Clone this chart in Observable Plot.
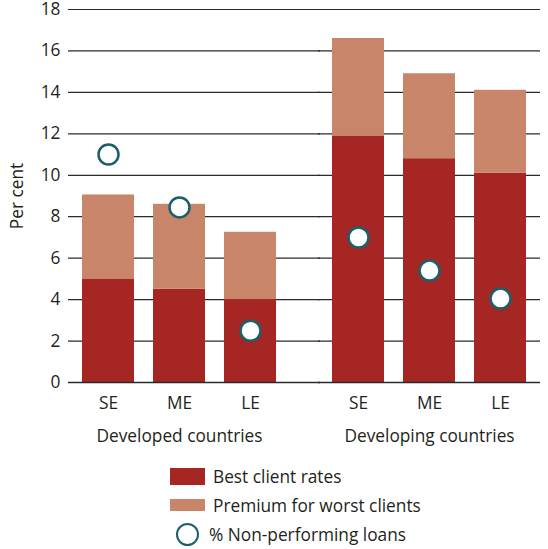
<!DOCTYPE html>
<html>
<head>
<meta charset="utf-8">
<script src="https://cdn.jsdelivr.net/npm/d3@7"></script>
<script src="https://cdn.jsdelivr.net/npm/@observablehq/plot@0.6"></script>
<style>
  body { margin: 0; background: #fff; font-family: "Open Sans", sans-serif; color: #231f20; }
  #wrap { position: relative; width: 548px; height: 549px; }
  #legend { position: absolute; left: 0; top: 450px; width: 548px; height: 99px; font-size: 17.3px; }
  .row { position: absolute; left: 170px; display: flex; align-items: center; }
  .sw { width: 35px; margin-right: 8px; }
  .circ { width: 19px; height: 19px; border-radius: 50%; border: 2.5px solid #1c5f6c; margin: 0 10px 0 6px; box-sizing: content-box; }
</style>
</head>
<body>
<div id="wrap">
  <div id="chart"></div>
  <div id="legend"></div>
</div>
<script>
const groups = ["Developed countries", "Developing countries"];
const sizes = ["SE", "ME", "LE"];
const seriesNames = ["Best client rates", "Premium for worst clients"];
const nplName = "% Non-performing loans";
const bestRates = [5.0, 4.5, 4.0, 11.9, 10.8, 10.1];
const premiumRates = [4.05, 4.1, 3.25, 4.7, 4.1, 4.0];
const nplValues = [11.0, 8.45, 2.5, 7.0, 5.4, 4.05];
const yTicks = [0, 2, 4, 6, 8, 10, 12, 14, 16, 18];
const colors = ["#a52622", "#c9856a"];
const nplStroke = "#1c5f6c";

const barRows = [];
const dotRows = [];
bestRates.forEach((v, i) => {
  barRows.push({group: groups[Math.floor(i / 3)], size: sizes[i % 3], series: seriesNames[0], value: v});
});
premiumRates.forEach((v, i) => {
  barRows.push({group: groups[Math.floor(i / 3)], size: sizes[i % 3], series: seriesNames[1], value: v});
});
nplValues.forEach((v, i) => {
  dotRows.push({group: groups[Math.floor(i / 3)], size: sizes[i % 3], npl: v});
});

const gridStyle = {stroke: "#2a2a2a", strokeWidth: 1.2};

const chart = Plot.plot({
  width: 548,
  height: 450,
  marginLeft: 68,
  marginRight: 8,
  marginTop: 9,
  marginBottom: 68,
  style: {fontFamily: "Open Sans", fontSize: "17.3px", color: "#231f20", background: "#fff"},
  fx: {domain: groups, paddingInner: 0.112, paddingOuter: 0, label: null},
  x: {domain: sizes, paddingInner: 0.263, paddingOuter: 0.19, label: null},
  y: {domain: [0, 18], label: "Per cent"},
  color: {domain: seriesNames, range: colors},
  marks: [
    // grid lines: the left panel's lines reach across the gap between panels
    Plot.ruleY(yTicks, {fx: () => groups[0], insetRight: -30, ...gridStyle}),
    Plot.ruleY(yTicks, {fx: () => groups[1], ...gridStyle}),
    Plot.barY(barRows, {fx: "group", x: "size", y: "value", fill: "series", order: seriesNames}),
    Plot.ruleY([0], {fx: () => groups[0], insetRight: -30, stroke: "#2a2a2a", strokeWidth: 1.6}),
    Plot.ruleY([0], {fx: () => groups[1], stroke: "#2a2a2a", strokeWidth: 1.6}),
    Plot.dot(dotRows, {fx: "group", x: "size", y: "npl", r: 10, fill: "#fff", stroke: nplStroke, strokeWidth: 2.5}),
    Plot.axisY({ticks: yTicks, tickSize: 0, tickPadding: 8, label: "Per cent", labelAnchor: "center", labelArrow: "none", labelOffset: 58}),
    Plot.axisX({tickSize: 0, tickPadding: 14, label: null}),
    Plot.axisFx({anchor: "bottom", tickSize: 0, tickPadding: 47, label: null})
  ]
});
document.getElementById("chart").appendChild(chart);

// legend
const legend = document.getElementById("legend");
const rowsSpec = [
  {type: "swatch", color: colors[0], label: seriesNames[0], top: 18, h: 17},
  {type: "swatch", color: colors[1], label: seriesNames[1], top: 49, h: 12},
  {type: "circle", label: nplName, top: 73}
];
rowsSpec.forEach(r => {
  const row = document.createElement("div");
  row.className = "row";
  const mark = document.createElement("div");
  if (r.type === "swatch") {
    mark.className = "sw";
    mark.style.height = r.h + "px";
    mark.style.background = r.color;
    row.style.top = r.top + "px";
    row.style.height = r.h + "px";
  } else {
    mark.className = "circ";
    row.style.top = r.top + "px";
    row.style.left = "170px";
  }
  const t = document.createElement("span");
  t.textContent = r.label;
  row.appendChild(mark);
  row.appendChild(t);
  legend.appendChild(row);
});
</script>
</body>
</html>
